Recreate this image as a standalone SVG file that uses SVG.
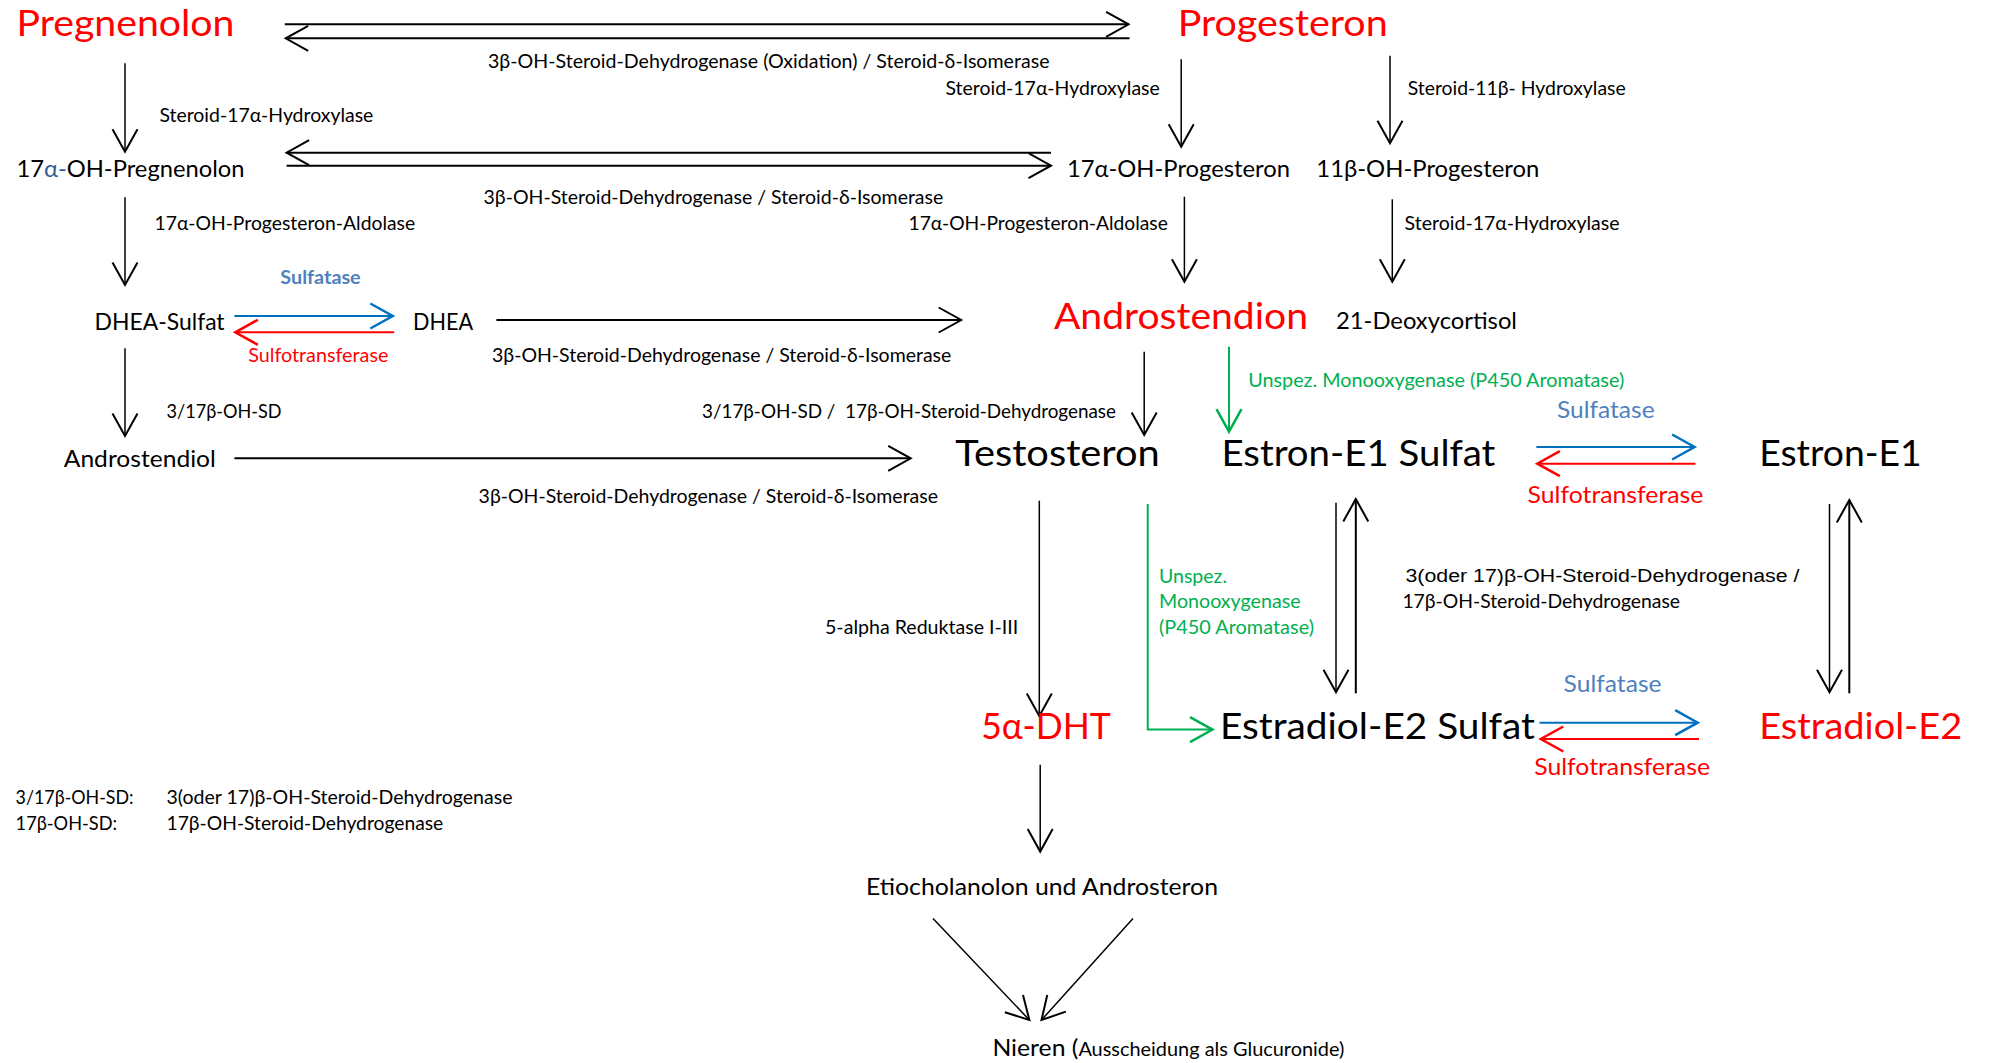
<svg xmlns="http://www.w3.org/2000/svg" width="1989" height="1063" viewBox="0 0 1989 1063">
<style>
text{font-family:Lato,"Open Sans","Liberation Sans",sans-serif;fill:#000}
.big{font-size:37px}
.mid{font-size:23.5px}
.sm{font-size:19px}
.red{fill:#FF0000}
.blue{fill:#4F81BD}
.green{fill:#00B050}
.arial{font-family:"Liberation Sans",Arial,sans-serif;font-size:18px}
.c{fill:none;stroke:#000;stroke-width:1.5}
.thick{stroke-width:2}
.cb{fill:none;stroke:#0070C0;stroke-width:2}
.cr{fill:none;stroke:#FF0000;stroke-width:2}
.cg{fill:none;stroke:#00B050;stroke-width:2}
</style>
<defs>
<marker id="mk" markerUnits="userSpaceOnUse" markerWidth="30" markerHeight="30" viewBox="-20 -12 24 24" refX="0" refY="0" orient="auto" overflow="visible"><path d="M-18,-10 L0,0 L-18,10" fill="none" stroke="#000" stroke-width="1.6"/></marker>
<marker id="mb" markerUnits="userSpaceOnUse" markerWidth="30" markerHeight="30" viewBox="-20 -12 24 24" refX="0" refY="0" orient="auto" overflow="visible"><path d="M-18,-10 L0,0 L-18,10" fill="none" stroke="#0070C0" stroke-width="2"/></marker>
<marker id="mr" markerUnits="userSpaceOnUse" markerWidth="30" markerHeight="30" viewBox="-20 -12 24 24" refX="0" refY="0" orient="auto" overflow="visible"><path d="M-18,-10 L0,0 L-18,10" fill="none" stroke="#FF0000" stroke-width="2"/></marker>
<marker id="mg" markerUnits="userSpaceOnUse" markerWidth="30" markerHeight="30" viewBox="-20 -12 24 24" refX="0" refY="0" orient="auto" overflow="visible"><path d="M-18,-10 L0,0 L-18,10" fill="none" stroke="#00B050" stroke-width="2"/></marker>
</defs>
<rect width="1989" height="1063" fill="#fff"/>

<g id="connectors">
<path class="c thick" d="M284.8,24.3 H1128.6" marker-end="url(#mk)"/>
<path class="c thick" d="M1129.5,38.3 H285.7" marker-end="url(#mk)"/>
<path class="c thick" d="M1051,152.7 H286.6" marker-end="url(#mk)"/>
<path class="c thick" d="M286.6,165.7 H1051" marker-end="url(#mk)"/>
<path class="c" d="M125,63.3 V151.7" marker-end="url(#mk)"/>
<path class="c" d="M1181.2,59.3 V146.7" marker-end="url(#mk)"/>
<path class="c" d="M1390,55.7 V143.3" marker-end="url(#mk)"/>
<path class="c" d="M125,197.3 V285" marker-end="url(#mk)"/>
<path class="c" d="M1184.4,196.7 V281.7" marker-end="url(#mk)"/>
<path class="c" d="M1392.3,199.3 V281.7" marker-end="url(#mk)"/>
<path class="cb" d="M234.4,316 H392.8" marker-end="url(#mb)"/>
<path class="cr" d="M394.2,332.3 H235.3" marker-end="url(#mr)"/>
<path class="c thick" d="M496.4,320 H961.2" marker-end="url(#mk)"/>
<path class="c" d="M125,348.3 V436" marker-end="url(#mk)"/>
<path class="c thick" d="M234.4,458.3 H910.7" marker-end="url(#mk)"/>
<path class="c" d="M1144.2,351.7 V435" marker-end="url(#mk)"/>
<path class="cg" d="M1229,346.7 V431.7" marker-end="url(#mg)"/>
<path class="cb" d="M1536.4,447 H1694.6" marker-end="url(#mb)"/>
<path class="cr" d="M1695.5,463.7 H1537.3" marker-end="url(#mr)"/>
<path class="c" d="M1336,502.7 V692.3" marker-end="url(#mk)"/>
<path class="c thick" d="M1355.8,693.3 V499" marker-end="url(#mk)"/>
<path class="c" d="M1829.5,504 V692.3" marker-end="url(#mk)"/>
<path class="c thick" d="M1849.3,693.3 V500" marker-end="url(#mk)"/>
<path class="c" d="M1039.3,500.7 V715.9" marker-end="url(#mk)"/>
<path class="cg" d="M1147.7,504 V729.6 H1212.5" marker-end="url(#mg)"/>
<path class="cb" d="M1539.5,722.7 H1697.7" marker-end="url(#mb)"/>
<path class="cr" d="M1699,739 H1540.8" marker-end="url(#mr)"/>
<path class="c" d="M1040.2,764.8 V851.6" marker-end="url(#mk)"/>
<path class="c" d="M933,918.4 L1029.4,1020" marker-end="url(#mk)"/>
<path class="c" d="M1133,918.4 L1041.5,1020" marker-end="url(#mk)"/>
</g>

<g id="edge-labels">
<text class="sm" x="488" y="67.5" textLength="561.5" lengthAdjust="spacingAndGlyphs">3β-OH-Steroid-Dehydrogenase (Oxidation) / Steroid-δ-Isomerase</text>
<text class="sm" x="159.4" y="121.5" textLength="214" lengthAdjust="spacingAndGlyphs">Steroid-17α-Hydroxylase</text>
<text class="sm" x="945.5" y="94.5" textLength="214.3" lengthAdjust="spacingAndGlyphs">Steroid-17α-Hydroxylase</text>
<text class="sm" x="1407.7" y="95" textLength="218" lengthAdjust="spacingAndGlyphs">Steroid-11β- Hydroxylase</text>
<text class="sm" x="483.5" y="204" textLength="459.8" lengthAdjust="spacingAndGlyphs">3β-OH-Steroid-Dehydrogenase / Steroid-δ-Isomerase</text>
<text class="sm" x="154.5" y="230" textLength="260.7" lengthAdjust="spacingAndGlyphs">17α-OH-Progesteron-Aldolase</text>
<text class="sm" x="908.5" y="230" textLength="259.3" lengthAdjust="spacingAndGlyphs">17α-OH-Progesteron-Aldolase</text>
<text class="sm" x="1404.6" y="230" textLength="215" lengthAdjust="spacingAndGlyphs">Steroid-17α-Hydroxylase</text>
<text class="sm blue" x="280.3" y="283.5" font-weight="bold" textLength="80.4" lengthAdjust="spacingAndGlyphs">Sulfatase</text>
<text class="sm red" x="248.2" y="361.5" textLength="140.2" lengthAdjust="spacingAndGlyphs">Sulfotransferase</text>
<text class="sm" x="492" y="361.5" textLength="459.3" lengthAdjust="spacingAndGlyphs">3β-OH-Steroid-Dehydrogenase / Steroid-δ-Isomerase</text>
<text class="sm green" x="1248.2" y="387" textLength="376" lengthAdjust="spacingAndGlyphs">Unspez. Monooxygenase (P450 Aromatase)</text>
<text class="sm" x="166.5" y="418" textLength="115" lengthAdjust="spacingAndGlyphs">3/17β-OH-SD</text>
<text class="sm" x="702" y="418" textLength="414" lengthAdjust="spacingAndGlyphs" xml:space="preserve">3/17β-OH-SD /  17β-OH-Steroid-Dehydrogenase</text>
<text class="sm" x="478.6" y="503" textLength="459.4" lengthAdjust="spacingAndGlyphs">3β-OH-Steroid-Dehydrogenase / Steroid-δ-Isomerase</text>
<text class="blue" font-size="24" x="1557" y="418" textLength="97.6" lengthAdjust="spacingAndGlyphs">Sulfatase</text>
<text class="red" font-size="24" x="1527.6" y="503" textLength="175.8" lengthAdjust="spacingAndGlyphs">Sulfotransferase</text>
<text class="arial" x="1405.5" y="581.5" textLength="394" lengthAdjust="spacingAndGlyphs">3(oder 17)β-OH-Steroid-Dehydrogenase /</text>
<text class="sm" x="1402.4" y="608" textLength="277.6" lengthAdjust="spacingAndGlyphs">17β-OH-Steroid-Dehydrogenase</text>
<text class="blue" font-size="24" x="1563.6" y="691.5" textLength="98" lengthAdjust="spacingAndGlyphs">Sulfatase</text>
<text class="red" font-size="24" x="1534.2" y="775" textLength="175.8" lengthAdjust="spacingAndGlyphs">Sulfotransferase</text>
<text class="sm" x="825" y="634" textLength="193.3" lengthAdjust="spacingAndGlyphs">5-alpha Reduktase I-III</text>
<text class="sm green" x="1159" y="583" textLength="68" lengthAdjust="spacingAndGlyphs">Unspez.</text>
<text class="sm green" x="1159" y="608.4" textLength="141.5" lengthAdjust="spacingAndGlyphs">Monooxygenase</text>
<text class="sm green" x="1159" y="634" textLength="155" lengthAdjust="spacingAndGlyphs">(P450 Aromatase)</text>
</g>

<g id="legend">
<text class="sm" x="15.6" y="804" textLength="118" lengthAdjust="spacingAndGlyphs">3/17β-OH-SD:</text>
<text class="sm" x="166.5" y="804" textLength="346" lengthAdjust="spacingAndGlyphs">3(oder 17)β-OH-Steroid-Dehydrogenase</text>
<text class="sm" x="15.6" y="830" textLength="101.5" lengthAdjust="spacingAndGlyphs">17β-OH-SD:</text>
<text class="sm" x="166.5" y="830" textLength="276.8" lengthAdjust="spacingAndGlyphs">17β-OH-Steroid-Dehydrogenase</text>
</g>

<g id="node-pregnenolon"><text class="big red" x="16.5" y="36" textLength="218" lengthAdjust="spacingAndGlyphs">Pregnenolon</text></g>
<g id="node-progesteron"><text class="big red" x="1177.7" y="36" textLength="210" lengthAdjust="spacingAndGlyphs">Progesteron</text></g>
<g id="node-17a-oh-pregnenolon"><text class="mid" x="16.5" y="177" textLength="228" lengthAdjust="spacingAndGlyphs">17<tspan fill="#2E5C95">α-</tspan>OH-Pregnenolon</text></g>
<g id="node-17a-oh-progesteron"><text class="mid" x="1067" y="177" textLength="223" lengthAdjust="spacingAndGlyphs">17α-OH-Progesteron</text></g>
<g id="node-11b-oh-progesteron"><text class="mid" x="1316.3" y="177" textLength="223" lengthAdjust="spacingAndGlyphs">11β-OH-Progesteron</text></g>
<g id="node-dhea-sulfat"><text class="mid" x="94.6" y="330" textLength="130" lengthAdjust="spacingAndGlyphs">DHEA-Sulfat</text></g>
<g id="node-dhea"><text class="mid" x="413" y="330" textLength="60" lengthAdjust="spacingAndGlyphs">DHEA</text></g>
<g id="node-androstendion"><text class="big red" x="1054" y="329" textLength="254" lengthAdjust="spacingAndGlyphs">Androstendion</text></g>
<g id="node-21-deoxycortisol"><text class="mid" x="1336" y="329" textLength="181" lengthAdjust="spacingAndGlyphs">21-Deoxycortisol</text></g>
<g id="node-androstendiol"><text class="mid" x="63.8" y="467" textLength="152" lengthAdjust="spacingAndGlyphs">Androstendiol</text></g>
<g id="node-testosteron"><text class="big" x="955.3" y="466" textLength="204.5" lengthAdjust="spacingAndGlyphs">Testosteron</text></g>
<g id="node-estron-e1-sulfat"><text class="big" x="1221.4" y="466" textLength="274" lengthAdjust="spacingAndGlyphs">Estron-E1 Sulfat</text></g>
<g id="node-estron-e1"><text class="big" x="1759.2" y="466" textLength="162.5" lengthAdjust="spacingAndGlyphs">Estron-E1</text></g>
<g id="node-5a-dht"><text class="big red" x="981.2" y="739" textLength="129.5" lengthAdjust="spacingAndGlyphs">5α-DHT</text></g>
<g id="node-estradiol-e2-sulfat"><text class="big" x="1220" y="739" textLength="315" lengthAdjust="spacingAndGlyphs">Estradiol-E2 Sulfat</text></g>
<g id="node-estradiol-e2"><text class="big red" x="1759.2" y="739" textLength="203" lengthAdjust="spacingAndGlyphs">Estradiol-E2</text></g>
<g id="node-etiocholanolon"><text class="mid" x="866" y="894.6" textLength="352" lengthAdjust="spacingAndGlyphs">Etiocholanolon und Androsteron</text></g>
<g id="node-nieren"><text x="992.4" y="1056"><tspan font-size="23.5" textLength="86" lengthAdjust="spacingAndGlyphs">Nieren (</tspan><tspan font-size="19" textLength="266" lengthAdjust="spacingAndGlyphs">Ausscheidung als Glucuronide)</tspan></text></g>
</svg>
